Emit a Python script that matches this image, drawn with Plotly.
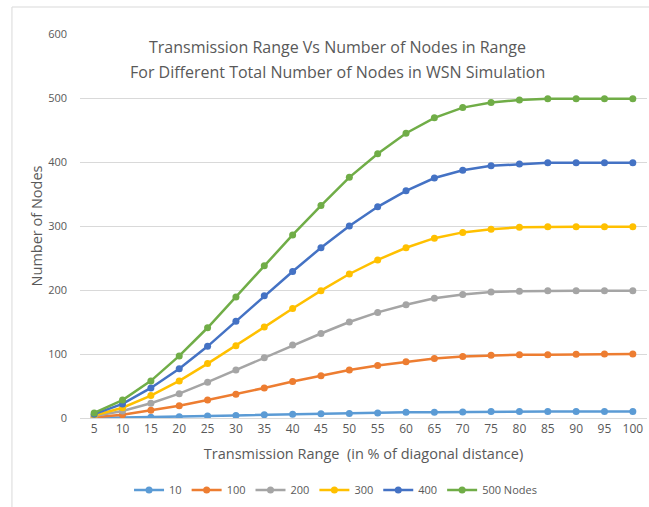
import plotly.graph_objects as go

ranges = [5, 10, 15, 20, 25, 30, 35, 40, 45, 50, 55, 60, 65, 70, 75, 80, 85, 90, 95, 100]
x_labels = [str(v) for v in ranges]

n10 = [0, 0.5, 1, 2, 3, 4, 5, 6, 6.5, 7, 8, 9, 9, 9.5, 10, 10, 10, 10, 10, 10]
n100 = [1, 5, 12, 19, 28, 37, 47, 57, 66, 75, 82, 88, 93, 96, 98, 99, 99, 99.5, 100, 100]
n200 = [3, 11, 23, 38, 56, 75, 94, 114, 132, 150, 165, 177, 187, 193, 197, 198, 199, 199, 199, 199]
n300 = [4, 16, 35, 58, 85, 113, 142, 171, 199, 225, 247, 266, 281, 290, 295, 298, 299, 299, 299, 299]
n400 = [6, 22, 47, 77, 112, 151, 191, 229, 266, 300, 330, 355, 375, 387, 394, 397, 399, 399, 399, 399]
n500 = [8, 28, 58, 97, 141, 189, 238, 286, 332, 376, 413, 445, 469, 485, 493, 497, 499, 499, 499, 499]

series = [
    ("10", n10, "#5B9BD5"),
    ("100", n100, "#ED7D31"),
    ("200", n200, "#A5A5A5"),
    ("300", n300, "#FFC000"),
    ("400", n400, "#4472C4"),
    ("500 Nodes", n500, "#70AD47"),
]

font_family = "'Open Sans', Lato, sans-serif"
txt = "#595959"

fig = go.Figure()
for name, vals, col in series:
    fig.add_trace(go.Scatter(
        x=x_labels, y=vals, name=name, mode="lines+markers",
        line=dict(color=col, width=2.5),
        marker=dict(color=col, size=7),
    ))

title_lines = ["Transmission Range Vs Number of Nodes in Range",
               "For Different Total Number of Nodes in WSN Simulation"]

fig.update_layout(
    width=649, height=507,
    margin=dict(l=80, r=2, t=34, b=89),
    paper_bgcolor="white", plot_bgcolor="white",
    font=dict(family=font_family, color=txt),
    showlegend=True,
    legend=dict(orientation="h", xref="container", yref="container",
                x=0.517, xanchor="center", y=0.0335, yanchor="middle",
                font=dict(size=11, color=txt)),
    xaxis=dict(type="category", range=[-0.5, 19.5], showgrid=False, showline=True,
               linecolor="#D9D9D9",
               tickfont=dict(size=12, color=txt), ticks="", automargin=False,
               title=dict(text="Transmission Range  (in % of diagonal distance)",
                          font=dict(size=14.5, color=txt), standoff=12)),
    yaxis=dict(range=[0, 600], dtick=100, showgrid=True, gridcolor="#D9D9D9",
               zeroline=False, tickfont=dict(size=11, color=txt), ticks="",
               ticklabelstandoff=12, automargin=False,
               title=dict(text="Number of Nodes", font=dict(size=14.5, color=txt), standoff=2)),
    annotations=[
        dict(text=title_lines[0], xref="paper", yref="paper", x=0.455, y=0.966,
             xanchor="center", yanchor="middle", showarrow=False,
             font=dict(size=16, color=txt, family=font_family)),
        dict(text=title_lines[1], xref="paper", yref="paper", x=0.455, y=0.901,
             xanchor="center", yanchor="middle", showarrow=False,
             font=dict(size=16, color=txt, family=font_family)),
    ],
    shapes=[dict(type="rect", xref="paper", yref="paper", x0=-0.12, x1=1.1, y0=-0.3, y1=1.0703,
                 line=dict(color="#D9D9D9", width=1), layer="below")],
)

fig.write_html("out.html", config={"displayModeBar": False},
               post_script="document.body.style.margin='0';")
